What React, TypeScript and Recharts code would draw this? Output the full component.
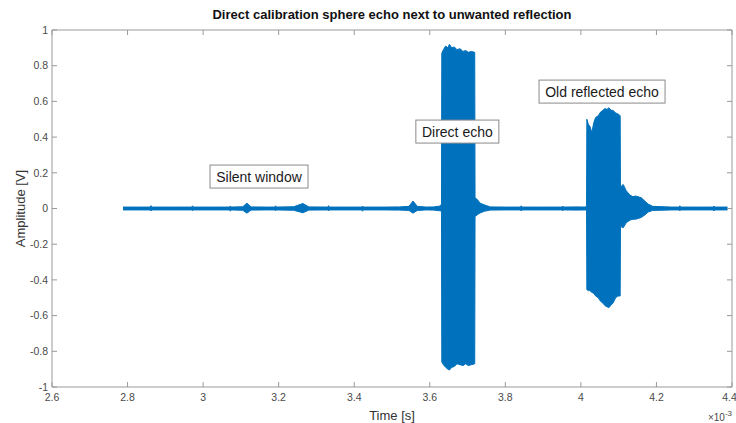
import React from 'react'
import { ComposedChart, Area, XAxis, YAxis, Label, ReferenceDot } from 'recharts'

// time axis is in units of 1e-3 s (the "x10^-3" factor is drawn separately)
const times = [
  2.788, 2.83, 2.86, 2.862, 2.864, 2.92, 2.97, 2.972, 2.974, 3.03, 3.07, 3.072, 3.074, 3.105, 3.116, 3.127,
  3.17, 3.19, 3.192, 3.194, 3.24, 3.264, 3.28, 3.33, 3.332, 3.334, 3.38, 3.42, 3.422, 3.424, 3.48, 3.52,
  3.545, 3.5555, 3.567, 3.59, 3.61, 3.628, 3.631,
  3.6318, 3.636, 3.642, 3.648, 3.652, 3.658, 3.665, 3.672, 3.68, 3.688, 3.695, 3.702, 3.71, 3.719,
  3.7198, 3.726, 3.733, 3.745, 3.76, 3.8, 3.84, 3.842, 3.844, 3.9, 3.95, 3.952, 3.954, 3.99, 4.012, 4.015,
  4.0158, 4.02, 4.024, 4.029, 4.034, 4.039, 4.046, 4.052, 4.058, 4.064, 4.069, 4.074, 4.08, 4.085, 4.092, 4.098, 4.104,
  4.1048, 4.112, 4.12, 4.13, 4.138, 4.145, 4.16, 4.17, 4.178, 4.19,
  4.24, 4.26, 4.262, 4.264, 4.32, 4.35, 4.352, 4.354, 4.388,
]

// upper / lower envelope of the recorded waveform [V]
const upper = [
  0.008, 0.008, 0.008, 0.016, 0.008, 0.008, 0.008, 0.015, 0.008, 0.008, 0.008, 0.014, 0.008, 0.01, 0.03, 0.009,
  0.008, 0.008, 0.015, 0.008, 0.01, 0.028, 0.009, 0.008, 0.016, 0.008, 0.008, 0.008, 0.014, 0.008, 0.008, 0.009,
  0.012, 0.042, 0.012, 0.008, 0.009, 0.014, 0.025,
  0.87, 0.89, 0.91, 0.9, 0.92, 0.9, 0.905, 0.89, 0.895, 0.88, 0.885, 0.875, 0.88, 0.875,
  0.06, 0.05, 0.03, 0.02, 0.009, 0.008, 0.008, 0.015, 0.008, 0.008, 0.008, 0.014, 0.008, 0.009, 0.008, 0.015,
  0.5, 0.47, 0.46, 0.425, 0.48, 0.51, 0.52, 0.54, 0.55, 0.56, 0.555, 0.565, 0.55, 0.55, 0.535, 0.53, 0.52,
  0.12, 0.135, 0.1, 0.075, 0.066, 0.07, 0.06, 0.04, 0.025, 0.012,
  0.008, 0.008, 0.015, 0.008, 0.008, 0.008, 0.014, 0.008, 0.008,
]

const lower = [
  -0.008, -0.008, -0.008, -0.014, -0.008, -0.008, -0.008, -0.013, -0.008, -0.008, -0.008, -0.015, -0.008, -0.01, -0.026, -0.009,
  -0.008, -0.008, -0.013, -0.008, -0.01, -0.024, -0.009, -0.008, -0.014, -0.008, -0.008, -0.008, -0.015, -0.008, -0.008, -0.009,
  -0.011, -0.026, -0.011, -0.008, -0.009, -0.013, -0.018,
  -0.86, -0.875, -0.89, -0.9, -0.905, -0.89, -0.885, -0.87, -0.875, -0.88, -0.87, -0.88, -0.875, -0.87,
  -0.045, -0.035, -0.025, -0.015, -0.009, -0.008, -0.008, -0.014, -0.008, -0.008, -0.008, -0.013, -0.008, -0.009, -0.008, -0.013,
  -0.455, -0.46, -0.46, -0.47, -0.475, -0.49, -0.5, -0.52, -0.53, -0.545, -0.55, -0.556, -0.54, -0.53, -0.5, -0.49, -0.49,
  -0.1, -0.108, -0.08, -0.065, -0.06, -0.06, -0.05, -0.035, -0.02, -0.011,
  -0.008, -0.008, -0.013, -0.008, -0.008, -0.008, -0.014, -0.008, -0.008,
]

const xTicks = [2.6, 2.8, 3, 3.2, 3.4, 3.6, 3.8, 4, 4.2, 4.4]
const yTicks = [-1, -0.8, -0.6, -0.4, -0.2, 0, 0.2, 0.4, 0.6, 0.8, 1]

const noteLabels = ['Silent window', 'Direct echo', 'Old reflected echo']
const noteTimes = [3.148, 3.673, 4.056]
const noteAmps = [0.179, 0.431, 0.655]

const data = times.map((t, i) => ({ t, range: [lower[i], upper[i]] }))

const FONT = '"Liberation Sans", Arial, Helvetica, sans-serif'
const BLUE = '#0072BD'
const AXIS = '#9a9a9a'
const TICK_TEXT = '#4a4a4a'

let measureCtx: CanvasRenderingContext2D | null = null
function textWidth(s: string, font: string) {
  if (!measureCtx) measureCtx = document.createElement('canvas').getContext('2d')
  if (!measureCtx) return s.length * 7
  measureCtx.font = font
  return measureCtx.measureText(s).width
}

function NoteBox({ cx, cy, text }: { cx: number; cy: number; text: string }) {
  const w = Math.round(textWidth(text, `14px ${FONT}`) + 12)
  const h = 23
  return (
    <g>
      <rect x={cx - w / 2} y={cy - h / 2} width={w} height={h} fill="#fff" stroke="#8a8a8a" strokeWidth={1} />
      <text x={cx} y={cy + 5} textAnchor="middle" fontSize={14} fontFamily={FONT} fill="#1a1a1a">
        {text}
      </text>
    </g>
  )
}

const tickStyle = { fontSize: 10.5, fontFamily: FONT, fill: TICK_TEXT }

export default function App() {
  return (
    <div style={{ position: 'absolute', left: 0, top: 0, background: '#fff' }}>
      <ComposedChart width={736} height={423} data={data} margin={{ top: 29, right: 3, bottom: 0, left: 0 }}>
        <XAxis
          dataKey="t"
          type="number"
          domain={[2.6, 4.4]}
          ticks={xTicks}
          allowDataOverflow
          height={36}
          stroke={AXIS}
          tickSize={-5}
          tickMargin={12}
          tick={tickStyle}
        >
          <Label
            content={({ viewBox }: any) => (
              <g>
                <text
                  x={viewBox.x + viewBox.width / 2}
                  y={viewBox.y + 33}
                  textAnchor="middle"
                  fontSize={13}
                  fontFamily={FONT}
                  fill="#333"
                >
                  Time [s]
                </text>
                <text x={viewBox.x + viewBox.width} y={viewBox.y + 34} textAnchor="end" fontSize={10} fontFamily={FONT} fill={TICK_TEXT}>
                  ×10
                  <tspan fontSize={8} dy={-5}>-3</tspan>
                </text>
              </g>
            )}
          />
        </XAxis>
        <XAxis
          xAxisId="top"
          dataKey="t"
          type="number"
          orientation="top"
          domain={[2.6, 4.4]}
          ticks={xTicks}
          allowDataOverflow
          height={1}
          stroke={AXIS}
          tickSize={-5}
          tickFormatter={() => ''}
        >
          <Label
            content={({ viewBox }: any) => (
              <text
                x={viewBox.x + viewBox.width / 2}
                y={viewBox.y - 10}
                textAnchor="middle"
                fontSize={13}
                fontWeight="bold"
                fontFamily={FONT}
                fill="#111"
              >
                Direct calibration sphere echo next to unwanted reflection
              </text>
            )}
          />
        </XAxis>
        <YAxis
          type="number"
          domain={[-1, 1]}
          ticks={yTicks}
          allowDataOverflow
          width={52}
          stroke={AXIS}
          tickSize={-5}
          tickMargin={9}
          tick={tickStyle}
        >
          <Label
            content={({ viewBox }: any) => (
              <text
                x={22}
                y={viewBox.y + viewBox.height / 2}
                transform={`rotate(-90, 22, ${viewBox.y + viewBox.height / 2})`}
                textAnchor="middle"
                dominantBaseline="middle"
                fontSize={13}
                fontFamily={FONT}
                fill="#333"
              >
                Amplitude [V]
              </text>
            )}
          />
        </YAxis>
        <YAxis
          yAxisId="right"
          orientation="right"
          type="number"
          domain={[-1, 1]}
          ticks={yTicks}
          allowDataOverflow
          width={1}
          stroke={AXIS}
          tickSize={-5}
          tickFormatter={() => ''}
        />
        <Area
          type="linear"
          dataKey="range"
          stroke={BLUE}
          strokeWidth={1}
          fill={BLUE}
          fillOpacity={1}
          dot={false}
          activeDot={false}
          isAnimationActive={false}
        />
        {noteLabels.map((label, i) => (
          <ReferenceDot
            key={label}
            x={noteTimes[i]}
            y={noteAmps[i]}
            r={0}
            shape={(p: any) => <NoteBox cx={p.cx} cy={p.cy} text={label} />}
          />
        ))}
      </ComposedChart>
    </div>
  )
}
